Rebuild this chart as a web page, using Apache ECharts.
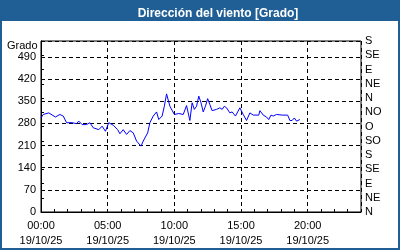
<!DOCTYPE html>
<html>
<head>
<meta charset="utf-8">
<script src="https://cdn.jsdelivr.net/npm/echarts@6/dist/echarts.min.js"></script>
<style>
html,body{margin:0;padding:0;background:#fff;}
#chart{width:400px;height:250px;}
</style>
</head>
<body>
<div id="chart"></div>
<script>
var titleText = 'Dirección del viento [Grado]';
var yName = 'Grado';
var dateLabel = '19/10/25';
var directionLabels = ['N','NE','E','SE','S','SO','O','NO','N','NE','E','SE','S'];
var times = ['00:00','00:10','00:35','00:40','01:05','01:25','01:40','01:55','02:20','02:40','02:50','03:05','03:25','03:40','03:55','04:20','04:35','04:50','05:05','05:25','05:45','05:55','06:10','06:25','06:40','06:55','07:10','07:30','07:40','08:00','08:10','08:25','08:40','08:50','09:05','09:15','09:25','09:40','10:00','10:20','10:40','10:55','11:10','11:20','11:30','11:40','11:50','12:00','12:10','12:20','12:30','12:40','12:50','13:10','13:25','13:35','13:45','13:55','14:10','14:20','14:35','14:45','14:55','15:10','15:25','15:40','15:55','16:20','16:25','16:40','16:55','17:05','17:15','17:25','17:40','18:05','18:30','18:40','18:50','19:00','19:10','19:25'];
var values = [297,308,313,308,300,308,303,282,282,279,287,276,276,282,266,260,271,255,282,274,260,247,260,245,257,250,224,208,224,250,282,303,316,292,303,334,373,334,308,311,308,336,289,345,324,334,366,345,316,334,358,339,320,324,329,324,334,329,313,316,303,316,329,308,289,313,306,306,320,306,300,292,306,303,308,306,306,289,289,297,287,292];

function toHours(t){var p=t.split(':');return +p[0]+(+p[1])/60;}
var seriesData = times.map(function(t,i){return [toHours(t), values[i]];});

var blue = '#1f5f96';
var font = 'Liberation Sans';
var chart = echarts.init(document.getElementById('chart'), null, {renderer:'canvas'});
var dash = [4,3];
chart.setOption({
  animation:false,
  backgroundColor:'#ffffff',
  title:{
    text:titleText, left:213, top:3, textAlign:'center',
    textStyle:{color:'#ffffff', fontFamily:font, fontSize:12, fontWeight:'bold'}
  },
  graphic:[
    {type:'rect', z:-100, silent:true, shape:{x:0,y:0,width:400,height:250}, style:{fill:blue}},
    {type:'rect', z:-99, silent:true, shape:{x:2,y:21,width:396,height:227}, style:{fill:'#ffffff'}},
    {type:'text', left:7, top:40, style:{text:yName, fill:'#000', font:'11px "Liberation Sans"'}}
  ],
  grid:{left:41, top:41, right:39, bottom:38, show:true, borderColor:'#000', borderWidth:1, backgroundColor:'transparent'},
  xAxis:[{
    type:'value', min:0, max:24, interval:5,
    axisLine:{show:true, lineStyle:{color:'#000'}},
    axisTick:{show:false},
    splitLine:{show:true, lineStyle:{color:'#000', type:dash}},
    axisLabel:{color:'#000', fontFamily:font, fontSize:11, lineHeight:15, margin:6, showMaxLabel:false,
      formatter:function(v){var h=Math.round(v);return (h<10?'0':'')+h+':00\n'+dateLabel;}}
  },{
    type:'value', min:0, max:24, interval:1, position:'bottom',
    axisLine:{show:false}, axisLabel:{show:false}, splitLine:{show:false},
    axisTick:{show:true, inside:true, length:3, lineStyle:{color:'#000'}}
  }],
  yAxis:[{
    type:'value', min:0, max:540, interval:70,
    axisLine:{show:true, lineStyle:{color:'#000'}},
    axisTick:{show:false},
    splitLine:{show:true, lineStyle:{color:'#000', type:dash}},
    axisLabel:{color:'#000', fontFamily:font, fontSize:11, margin:5, showMaxLabel:false}
  },{
    type:'value', min:0, max:540, interval:45, position:'right',
    axisLine:{show:true, lineStyle:{color:'#000'}},
    axisTick:{show:true, length:3, lineStyle:{color:'#000'}},
    splitLine:{show:false},
    axisLabel:{color:'#000', fontFamily:font, fontSize:11, margin:4,
      formatter:function(v){return directionLabels[Math.round(v/45)];}}
  }],
  series:[{
    type:'line', data:seriesData, xAxisIndex:0, yAxisIndex:0,
    showSymbol:false, symbol:'none',
    lineStyle:{color:'#0000ff', width:1}
  }]
});
</script>
</body>
</html>
